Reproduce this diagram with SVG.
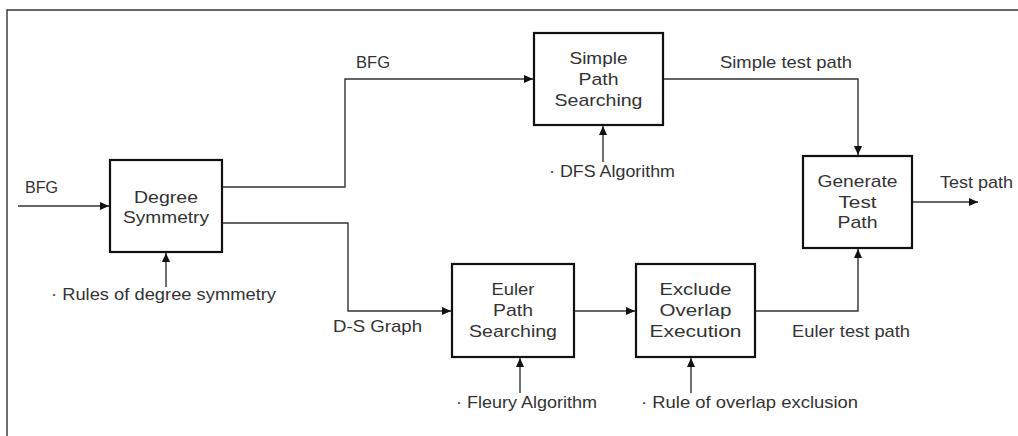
<svg xmlns="http://www.w3.org/2000/svg" width="1018" height="436" viewBox="0 0 1018 436">
  <style>
    .frame { fill: none; stroke: #333; stroke-width: 1.4; }
    .box { fill: #fff; stroke: #111; stroke-width: 2.2; }
    .wire { fill: none; stroke: #333; stroke-width: 1.4; }
    text { font-family: "Liberation Sans", Arial, sans-serif; font-size: 17px; fill: #333; }
    .c { text-anchor: middle; }
  </style>
  <defs>
    <marker id="arrow" markerUnits="userSpaceOnUse" markerWidth="10" markerHeight="10" refX="9" refY="4" orient="auto">
      <path d="M0,0 L9,4 L0,8 Z" fill="#111"/>
    </marker>
  </defs>

  <rect width="1018" height="436" fill="#fff"/>
  <!-- outer frame: only top and left borders inside the canvas -->
  <path class="frame" d="M7,436 V10 H1018"/>

  <!-- connectors -->
  <g id="connectors">
    <path class="wire" d="M18,206 H109" marker-end="url(#arrow)"/>
    <path class="wire" d="M222,187 H345 V79 H533" marker-end="url(#arrow)"/>
    <path class="wire" d="M222,223 H348 V311 H451" marker-end="url(#arrow)"/>
    <path class="wire" d="M663,79 H858 V155" marker-end="url(#arrow)"/>
    <path class="wire" d="M574,311 H635" marker-end="url(#arrow)"/>
    <path class="wire" d="M755,311 H858 V249" marker-end="url(#arrow)"/>
    <path class="wire" d="M912,202 H978" marker-end="url(#arrow)"/>
    <path class="wire" d="M166,287 V253" marker-end="url(#arrow)"/>
    <path class="wire" d="M603,162 V126" marker-end="url(#arrow)"/>
    <path class="wire" d="M520,393 V358" marker-end="url(#arrow)"/>
    <path class="wire" d="M691,393 V358" marker-end="url(#arrow)"/>

    <text x="25" y="193" textLength="33" lengthAdjust="spacingAndGlyphs">BFG</text>
    <text x="356" y="68" textLength="34" lengthAdjust="spacingAndGlyphs">BFG</text>
    <text x="333" y="332" textLength="89" lengthAdjust="spacingAndGlyphs">D-S Graph</text>
    <text x="720" y="68" textLength="132" lengthAdjust="spacingAndGlyphs">Simple test path</text>
    <text x="792" y="337" textLength="118" lengthAdjust="spacingAndGlyphs">Euler test path</text>
    <text x="940" y="188" textLength="73" lengthAdjust="spacingAndGlyphs">Test path</text>
    <text x="51" y="300" textLength="225" lengthAdjust="spacingAndGlyphs">· Rules of degree symmetry</text>
    <text x="549" y="177" textLength="126" lengthAdjust="spacingAndGlyphs">· DFS Algorithm</text>
    <text x="456" y="408" textLength="141" lengthAdjust="spacingAndGlyphs">· Fleury Algorithm</text>
    <text x="641" y="408" textLength="217" lengthAdjust="spacingAndGlyphs">· Rule of overlap exclusion</text>
  </g>

  <g id="degree-symmetry">
    <rect class="box" x="110" y="160" width="112" height="92"/>
    <text class="c" x="166" y="203" textLength="64" lengthAdjust="spacingAndGlyphs">Degree</text>
    <text class="c" x="166" y="223" textLength="86" lengthAdjust="spacingAndGlyphs">Symmetry</text>
  </g>

  <g id="simple-path-searching">
    <rect class="box" x="534" y="33" width="129" height="92"/>
    <text class="c" x="598.5" y="64" textLength="58" lengthAdjust="spacingAndGlyphs">Simple</text>
    <text class="c" x="598.5" y="85" textLength="40" lengthAdjust="spacingAndGlyphs">Path</text>
    <text class="c" x="598.5" y="106" textLength="88" lengthAdjust="spacingAndGlyphs">Searching</text>
  </g>

  <g id="euler-path-searching">
    <rect class="box" x="452" y="264" width="122" height="93"/>
    <text class="c" x="513" y="295" textLength="43" lengthAdjust="spacingAndGlyphs">Euler</text>
    <text class="c" x="513" y="316" textLength="40" lengthAdjust="spacingAndGlyphs">Path</text>
    <text class="c" x="513" y="337" textLength="88" lengthAdjust="spacingAndGlyphs">Searching</text>
  </g>

  <g id="exclude-overlap-execution">
    <rect class="box" x="636" y="264" width="119" height="93"/>
    <text class="c" x="695.5" y="295" textLength="72" lengthAdjust="spacingAndGlyphs">Exclude</text>
    <text class="c" x="695.5" y="316" textLength="72" lengthAdjust="spacingAndGlyphs">Overlap</text>
    <text class="c" x="695.5" y="337" textLength="92" lengthAdjust="spacingAndGlyphs">Execution</text>
  </g>

  <g id="generate-test-path">
    <rect class="box" x="803" y="156" width="109" height="92"/>
    <text class="c" x="857.5" y="187" textLength="80" lengthAdjust="spacingAndGlyphs">Generate</text>
    <text class="c" x="857.5" y="208" textLength="38" lengthAdjust="spacingAndGlyphs">Test</text>
    <text class="c" x="857.5" y="228" textLength="40" lengthAdjust="spacingAndGlyphs">Path</text>
  </g>
</svg>
